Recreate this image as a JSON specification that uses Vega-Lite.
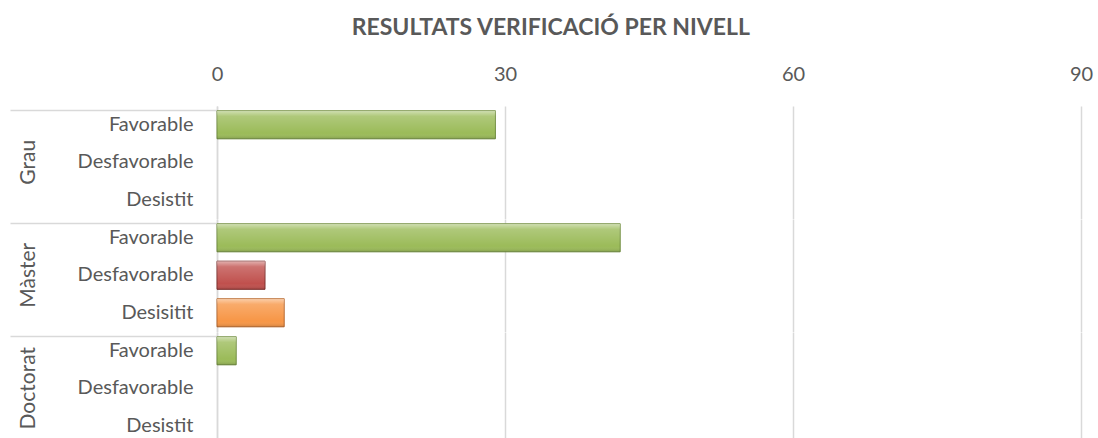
{
  "$schema": "https://vega.github.io/schema/vega-lite/v6.json",
  "background": "white",
  "padding": {"left": 9, "top": 17, "right": 17, "bottom": 0},
  "title": {"text": "RESULTATS VERIFICACIÓ PER NIVELL", "font": "Lato", "fontSize": 23, "fontWeight": "bold", "color": "#595959", "anchor": "middle", "frame": "bounds", "offset": 24},
  "data": {"values": [
    {"grp": "Grau", "cat": "Favorable", "res": "Favorable", "ord": 1, "val": 29},
    {"grp": "Grau", "cat": "Desfavorable", "res": "Desfavorable", "ord": 2, "val": 0},
    {"grp": "Grau", "cat": "Desistit", "res": "Desistit", "ord": 3, "val": 0},
    {"grp": "Màster", "cat": "Favorable", "res": "Favorable", "ord": 1, "val": 42},
    {"grp": "Màster", "cat": "Desfavorable", "res": "Desfavorable", "ord": 2, "val": 5},
    {"grp": "Màster", "cat": "Desisitit", "res": "Desistit", "ord": 3, "val": 7},
    {"grp": "Doctorat", "cat": "Favorable", "res": "Favorable", "ord": 1, "val": 2},
    {"grp": "Doctorat", "cat": "Desfavorable", "res": "Desfavorable", "ord": 2, "val": 0},
    {"grp": "Doctorat", "cat": "Desistit", "res": "Desistit", "ord": 3, "val": 0}
  ]},
  "facet": {"row": {"field": "grp", "type": "nominal", "sort": ["Grau", "Màster", "Doctorat"], "title": null,
    "header": {"labelAngle": -90, "labelOrient": "left", "labelFont": "Lato", "labelFontSize": 21, "labelColor": "#595959", "labelPadding": -41}}},
  "spacing": 0,
  "resolve": {"scale": {"y": "independent"}},
  "spec": {
    "width": 864,
    "height": 112.5,
    "view": {"stroke": null},
    "encoding": {
      "y": {"field": "cat", "type": "nominal", "sort": {"field": "ord"},
        "scale": {"paddingInner": 0.25, "paddingOuter": 0.125},
        "axis": {"title": null, "domain": true, "domainColor": "#d9d9d9", "domainWidth": 1.5,
          "ticks": true, "bandPosition": 0, "tickSize": 207, "tickWidth": 1.5,
          "tickColor": {"condition": {"test": "datum.value === 'Favorable'", "value": "#d9d9d9"}, "value": "rgba(0,0,0,0)"},
          "labelPadding": -183, "labelFont": "Lato", "labelFontSize": 20, "labelColor": "#595959", "grid": false}},
      "x": {"field": "val", "type": "quantitative", "scale": {"domain": [0, 90]},
        "axis": {"orient": "top", "title": null, "values": [0, 30, 60, 90], "domain": false, "ticks": false,
          "grid": true, "gridColor": "#d9d9d9", "gridWidth": 1.5, "labelPadding": 22, "labelFlush": false,
          "labelFont": "Lato", "labelFontSize": 20, "labelColor": "#595959"}}
    },
    "layer": [
      {"mark": {"type": "bar", "strokeWidth": 1},
        "encoding": {
          "color": {"field": "res", "type": "nominal", "legend": null,
            "scale": {"domain": ["Favorable", "Desfavorable", "Desistit"], "range": ["#9BBB59", "#C0504D", "#F79646"]}},
          "stroke": {"field": "res", "type": "nominal", "legend": null,
            "scale": {"domain": ["Favorable", "Desfavorable", "Desistit"], "range": ["#6E8B3D", "#7F2F2D", "#B5652A"]}},
          "strokeOpacity": {"condition": {"test": "datum.val > 0", "value": 1}, "value": 0}
        }},
      {"mark": {"type": "bar", "color": {"gradient": "linear", "x1": 0, "y1": 0, "x2": 0, "y2": 1,
          "stops": [
            {"offset": 0, "color": "rgba(255,255,255,0.55)"},
            {"offset": 0.2, "color": "rgba(255,255,255,0.2)"},
            {"offset": 0.8, "color": "rgba(255,255,255,0)"},
            {"offset": 1, "color": "rgba(0,0,0,0.15)"}
          ]}},
        "encoding": {}}
    ]
  }
}
